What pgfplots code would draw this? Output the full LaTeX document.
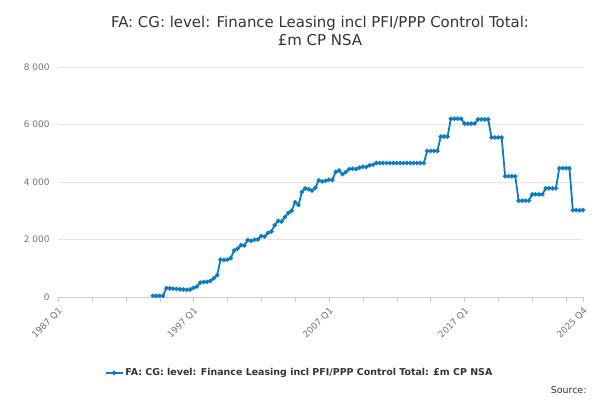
\documentclass[border=0pt]{standalone}
\usepackage{pgfplots}
\pgfplotsset{compat=1.18}
\usepackage{fontspec}
\setmainfont{DejaVu Sans}
\definecolor{ln}{HTML}{0A7DC2}
\definecolor{tx}{HTML}{333333}
\begin{document}
\begin{tikzpicture}
\useasboundingbox (-58bp,-103bp) rectangle (542bp,297bp);
\begin{axis}[at={(0,0)},anchor=south west,scale only axis,width=525bp,height=230bp,
 xmin=0,xmax=155,ymin=0,ymax=8000,
 axis y line*=left, axis x line*=bottom, y axis line style={draw=none},
 x axis line style={draw=gray!40},
 ytick={0,2000,4000,6000,8000}, yticklabels={0,2 000,4 000,6 000,8 000},
 ytick style={draw=none},
 ymajorgrids, grid style={gray!20},
 xtick={0,40,80,120,155}, xticklabels={1987 Q1,1997 Q1,2007 Q1,2017 Q1,2025 Q4},
 minor xtick={10,20,30,50,60,70,90,100,110,130,140,150},
 xtick style={gray!40}, minor tick length=5bp, major tick length=5bp,
 tick align=outside,
 x tick label style={rotate=45,anchor=north east,font=\fontsize{9}{10}\selectfont,text=gray!90!black},
 y tick label style={font=\fontsize{9}{10}\selectfont,text=gray!90!black},
 /pgf/number format/assume math mode=true,
 legend style={at={(0.46,-0.33)},anchor=center,draw=none,font=\bfseries\fontsize{9.5}{11}\selectfont,text=tx},
 legend image post style={mark size=1.3pt}
]
\addplot[ln,line width=1.8pt,mark=*,mark size=1.2pt] coordinates {
(28,40)(29,40)(30,40)(31,40)(32,310)(33,300)(34,290)(35,280)(36,270)(37,260)(38,250)(39,260)
(40,320)(41,360)(42,500)(43,520)(44,530)(45,560)(46,650)(47,760)(48,1300)(49,1290)(50,1300)(51,1350)
(52,1620)(53,1680)(54,1800)(55,1790)(56,1980)(57,1950)(58,1990)(59,2000)(60,2120)(61,2100)(62,2230)(63,2280)
(64,2500)(65,2650)(66,2620)(67,2780)(68,2920)(69,3000)(70,3300)(71,3200)(72,3650)(73,3780)(74,3750)(75,3700)
(76,3800)(77,4060)(78,4020)(79,4040)(80,4080)(81,4070)(82,4350)(83,4400)(84,4270)(85,4350)(86,4450)(87,4460)
(88,4450)(89,4500)(90,4530)(91,4520)(92,4580)(93,4600)(94,4660)(95,4660)(96,4660)(97,4660)(98,4660)(99,4660)
(100,4660)(101,4660)(102,4660)(103,4660)(104,4660)(105,4660)(106,4660)(107,4660)(108,4660)
(109,5080)(110,5080)(111,5080)(112,5080)(113,5580)(114,5580)(115,5580)(116,6200)(117,6200)(118,6200)(119,6200)
(120,6030)(121,6030)(122,6030)(123,6030)(124,6180)(125,6180)(126,6180)(127,6180)(128,5550)(129,5550)(130,5550)(131,5550)
(132,4200)(133,4200)(134,4200)(135,4200)(136,3350)(137,3350)(138,3350)(139,3350)(140,3570)(141,3570)(142,3570)(143,3570)
(144,3780)(145,3780)(146,3780)(147,3780)(148,4480)(149,4480)(150,4480)(151,4480)(152,3020)(153,3020)(154,3020)(155,3020)};
\addlegendentry{FA: CG: level: Finance Leasing incl PFI/PPP Control Total: £m CP NSA}
\end{axis}
\node[text=tx,font=\fontsize{15}{18}\selectfont,align=center] at (262bp,266bp) {FA: CG: level: Finance Leasing incl PFI/PPP Control Total:\\£m CP NSA};
\node[anchor=east,text=tx,font=\fontsize{9.5}{11}\selectfont] at (532bp,-93bp) {Source:};
\end{tikzpicture}
\end{document}
